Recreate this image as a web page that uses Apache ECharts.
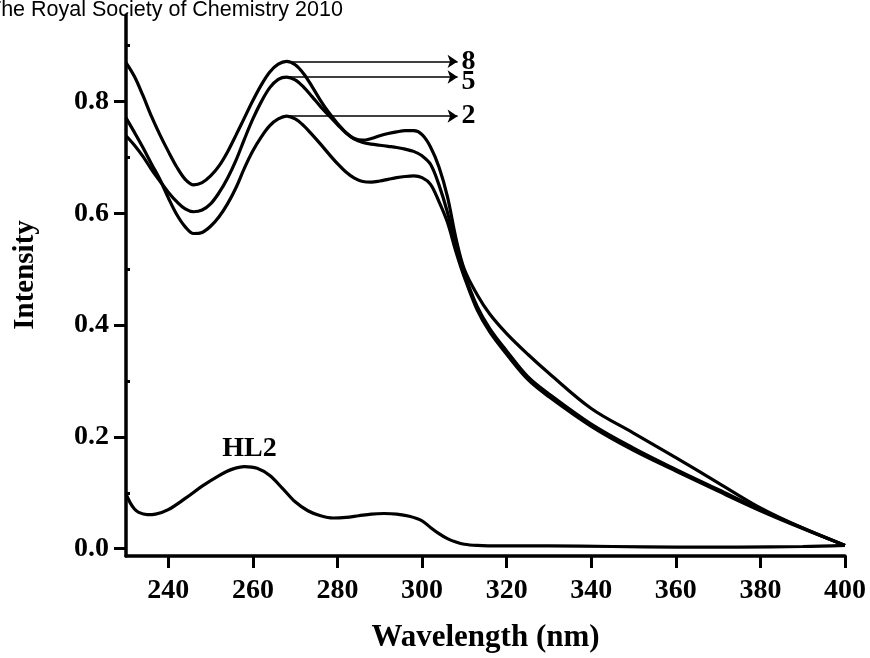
<!DOCTYPE html>
<html>
<head>
<meta charset="utf-8">
<script src="https://cdn.jsdelivr.net/npm/echarts@6/dist/echarts.min.js"></script>
<style>
  html, body { margin: 0; padding: 0; background: #fff; }
  #chart { width: 870px; height: 658px; }
</style>
</head>
<body>
<div id="chart"></div>
<script>
// Absorption spectra: complex at three titration steps (8, 5, 2) and free ligand HL2
const wavelengths = [230, 232, 234, 236, 238, 240, 242, 244, 246, 248, 250, 252, 254, 256, 258, 260,
  262, 264, 266, 268, 270, 272, 274, 276, 278, 280, 282, 284, 286, 288, 290, 292, 294, 296, 298, 300,
  302, 304, 306, 308, 310, 313, 316, 320, 325, 330, 340, 350, 360, 370, 380, 390, 400];

const ratio8 = [0.870, 0.845, 0.811, 0.774, 0.741, 0.711, 0.683, 0.661, 0.651, 0.655, 0.667, 0.685,
  0.710, 0.740, 0.771, 0.802, 0.830, 0.853, 0.867, 0.872, 0.866, 0.850, 0.827, 0.802, 0.780, 0.761,
  0.745, 0.734, 0.731, 0.734, 0.739, 0.743, 0.746, 0.748, 0.748, 0.741, 0.719, 0.683, 0.630, 0.556,
  0.500, 0.455, 0.420, 0.385, 0.348, 0.314, 0.251, 0.207, 0.163, 0.118, 0.073, 0.037, 0.006];

const ratio5 = [0.739, 0.722, 0.702, 0.679, 0.658, 0.638, 0.621, 0.608, 0.603, 0.606, 0.617, 0.637,
  0.663, 0.695, 0.733, 0.769, 0.800, 0.825, 0.840, 0.844, 0.839, 0.826, 0.809, 0.791, 0.775, 0.759,
  0.744, 0.733, 0.727, 0.724, 0.722, 0.720, 0.718, 0.715, 0.711, 0.703, 0.688, 0.651, 0.602, 0.541,
  0.492, 0.434, 0.394, 0.354, 0.308, 0.277, 0.223, 0.180, 0.142, 0.106, 0.070, 0.037, 0.006];

const ratio2 = [0.771, 0.745, 0.718, 0.689, 0.661, 0.628, 0.598, 0.576, 0.564, 0.566, 0.577, 0.594,
  0.617, 0.646, 0.681, 0.712, 0.737, 0.757, 0.769, 0.774, 0.769, 0.757, 0.741, 0.724, 0.706, 0.689,
  0.674, 0.663, 0.657, 0.656, 0.658, 0.661, 0.664, 0.666, 0.667, 0.664, 0.652, 0.621, 0.584, 0.532,
  0.486, 0.428, 0.388, 0.348, 0.303, 0.272, 0.219, 0.176, 0.139, 0.103, 0.068, 0.036, 0.006];

const hl2Wavelengths = [230, 231, 232, 233, 235, 237, 240, 244, 248, 252, 255, 258, 261, 264, 267,
  270, 273, 276, 279, 282, 285, 288, 291, 294, 297, 300, 302, 304, 306, 308, 310, 313, 318, 330,
  345, 360, 375, 390, 400];
const hl2 = [0.098, 0.082, 0.071, 0.065, 0.061, 0.062, 0.070, 0.090, 0.112, 0.131, 0.142, 0.147,
  0.144, 0.131, 0.108, 0.084, 0.068, 0.059, 0.055, 0.056, 0.059, 0.062, 0.063, 0.062, 0.058, 0.050,
  0.038, 0.027, 0.018, 0.012, 0.008, 0.006, 0.005, 0.005, 0.004, 0.003, 0.003, 0.004, 0.006];

const xTickValues = [240, 260, 280, 300, 320, 340, 360, 380, 400];
const yTickValues = [0.0, 0.2, 0.4, 0.6, 0.8];
const yMinorTickValues = [0.1, 0.3, 0.5, 0.7, 0.9];

const FONT = '"Liberation Serif", "Times New Roman", serif';
const ARROW_END = 308.4;   // wavelength where the peak arrows stop
const PEAK_FROM = 255;     // the band maximum is searched above this wavelength
const Y_MIN = -0.013;
const Y_MAX = 0.955;

function pairs(xs, ys) {
  return xs.map((x, i) => [x, ys[i]]);
}

function peakIndex(xs, ys, from) {
  let best = -1;
  ys.forEach((v, k) => {
    if (xs[k] >= from && (best < 0 || v > ys[best])) best = k;
  });
  return best;
}

// Horizontal arrow from a curve's band maximum to its label on the right
function peakArrow(name, ys, dy) {
  const i = peakIndex(wavelengths, ys, PEAK_FROM);
  return {
    silent: true,
    animation: false,
    symbol: ['none', 'arrow'],
    symbolSize: 10,
    lineStyle: { color: '#000', width: 1.5, type: 'solid' },
    label: {
      show: true, position: 'end', formatter: name, distance: 4, offset: [0, dy],
      color: '#000', fontFamily: FONT, fontWeight: 'bold', fontSize: 28
    },
    emphasis: { disabled: true },
    data: [[{ coord: [wavelengths[i], ys[i]] }, { coord: [ARROW_END, ys[i]] }]]
  };
}

const curveStyle = { color: '#000', width: 3.2 };

function spectrum(name, xs, ys, extra) {
  return Object.assign({
    name, type: 'line', data: pairs(xs, ys), smooth: 0.35, symbol: 'none',
    lineStyle: curveStyle, itemStyle: { color: '#000' }, emphasis: { disabled: true }
  }, extra || {});
}

const hl2Peak = peakIndex(hl2Wavelengths, hl2, PEAK_FROM - 10);

const chart = echarts.init(document.getElementById('chart'), null, { renderer: 'canvas' });

const axisText = { color: '#000', fontFamily: FONT, fontWeight: 'bold', fontSize: 28 };

chart.setOption({
  animation: false,
  backgroundColor: '#fff',
  grid: { left: 126, right: 25, top: 15, bottom: 99, containLabel: false },
  xAxis: {
    type: 'value', min: 230, max: 400,
    axisLine: { show: true, onZero: false, lineStyle: { color: '#000', width: 3.5 } },
    axisTick: { show: true, customValues: xTickValues, length: 12, lineStyle: { color: '#000', width: 3 } },
    axisLabel: Object.assign({ customValues: xTickValues, margin: 21 }, axisText),
    splitLine: { show: false },
    name: 'Wavelength (nm)', nameLocation: 'middle', nameGap: 66,
    nameTextStyle: { color: '#000', fontFamily: FONT, fontWeight: 'bold', fontSize: 31 }
  },
  yAxis: [
    {
      type: 'value', min: Y_MIN, max: Y_MAX,
      axisLine: { show: true, lineStyle: { color: '#000', width: 3.5 } },
      axisTick: { show: true, customValues: yTickValues, length: 12, lineStyle: { color: '#000', width: 3 } },
      axisLabel: Object.assign({ customValues: yTickValues, margin: 17, formatter: v => v.toFixed(1) }, axisText),
      splitLine: { show: false }
    },
    {
      type: 'value', min: Y_MIN, max: Y_MAX, position: 'left',
      axisLine: { show: false },
      axisTick: { show: true, inside: true, customValues: yMinorTickValues, length: 4, lineStyle: { color: '#000', width: 3 } },
      axisLabel: { show: false },
      splitLine: { show: false }
    }
  ],
  graphic: [
    {
      type: 'text', left: -12, top: -1,
      style: { text: 'The Royal Society of Chemistry 2010', font: '21.5px "Liberation Sans", Arial, sans-serif', fill: '#000' }
    },
    {
      type: 'text', x: 26, y: 275, rotation: Math.PI / 2,
      style: {
        text: 'Intensity', fill: '#000', align: 'center', verticalAlign: 'middle',
        font: 'bold 29px "Liberation Serif", "Times New Roman", serif'
      }
    }
  ],
  series: [
    spectrum('8', wavelengths, ratio8, { markLine: peakArrow('8', ratio8, 0) }),
    spectrum('5', wavelengths, ratio5, { markLine: peakArrow('5', ratio5, 5) }),
    spectrum('2', wavelengths, ratio2, { markLine: peakArrow('2', ratio2, 0) }),
    spectrum('HL2', hl2Wavelengths, hl2, {
      markPoint: {
        silent: true, animation: false, symbol: 'circle', symbolSize: 1,
        itemStyle: { color: 'rgba(0,0,0,0)' },
        label: { show: true, position: 'top', distance: 3, offset: [5, 0], formatter: 'HL2', color: '#000', fontFamily: FONT, fontWeight: 'bold', fontSize: 28 },
        data: [{ coord: [hl2Wavelengths[hl2Peak], hl2[hl2Peak]] }]
      }
    })
  ]
});
</script>
</body>
</html>
